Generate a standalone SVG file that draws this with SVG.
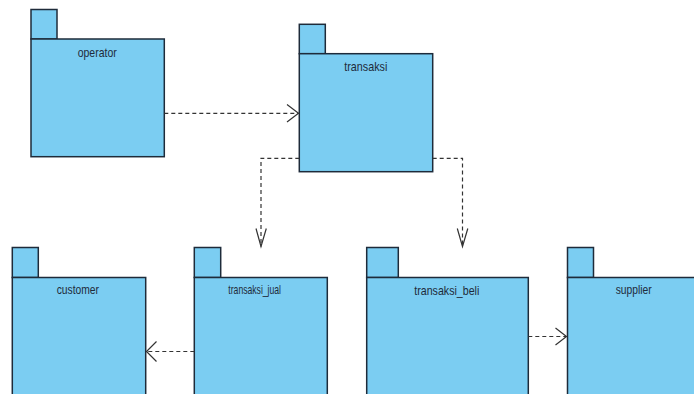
<svg xmlns="http://www.w3.org/2000/svg" width="694" height="394" viewBox="0 0 694 394">
<style>
.pkg rect{fill:#7bcdf2;stroke:#1e2b3a;stroke-width:1.5}
.pkg text{font-family:"Liberation Sans",Arial,sans-serif;font-size:13px;fill:#1e2b3a;text-anchor:middle}
.dep{fill:none;stroke:#333;stroke-width:1.2;stroke-dasharray:4,3}
.head{fill:none;stroke:#333;stroke-width:1.2}
</style>
<rect width="694" height="394" fill="#ffffff"/>
<g id="operator" class="pkg">
<rect x="31" y="9.5" width="26" height="29.5"/>
<rect x="31" y="39" width="133.3" height="117.7"/>
<text x="97.2" y="57" textLength="39" lengthAdjust="spacingAndGlyphs">operator</text>
</g>
<g id="transaksi" class="pkg">
<rect x="299.3" y="24.3" width="26" height="29.4"/>
<rect x="299.3" y="53.7" width="133.4" height="118"/>
<text x="365.8" y="71" textLength="43" lengthAdjust="spacingAndGlyphs">transaksi</text>
</g>
<g id="customer" class="pkg">
<rect x="12.3" y="247.5" width="26" height="30"/>
<rect x="12.3" y="277.5" width="133.4" height="130"/>
<text x="77.8" y="294.3" textLength="42.3" lengthAdjust="spacingAndGlyphs">customer</text>
</g>
<g id="transaksi_jual" class="pkg">
<rect x="194.3" y="247.5" width="26.4" height="30"/>
<rect x="194.3" y="277.5" width="133" height="130"/>
<text x="254.7" y="294.3" textLength="52.7" lengthAdjust="spacingAndGlyphs">transaksi_jual</text>
</g>
<g id="transaksi_beli" class="pkg">
<rect x="366.7" y="247.5" width="31.6" height="30"/>
<rect x="366.7" y="277.5" width="161.6" height="130"/>
<text x="446.8" y="294.8" textLength="65" lengthAdjust="spacingAndGlyphs">transaksi_beli</text>
</g>
<g id="supplier" class="pkg">
<rect x="567.5" y="247.5" width="26" height="30"/>
<rect x="567.5" y="277.5" width="140" height="130"/>
<text x="633.7" y="294.3" textLength="36" lengthAdjust="spacingAndGlyphs">supplier</text>
</g>
<g id="connectors">
<path class="dep" d="M164.3,113.3 H298.5"/>
<path class="head" d="M287,104.5 L298.5,113.3 L287,122"/>
<path class="dep" d="M299.3,158.3 H261 V246.5"/>
<path class="head" d="M256,228.5 L261,246.5 L266.3,228.5"/>
<path class="dep" d="M432.7,158.3 H462.5 V246.5"/>
<path class="head" d="M457.3,228.5 L462.5,246.5 L467.8,228.5"/>
<path class="dep" d="M194.3,351.5 H146.5"/>
<path class="head" d="M156.5,341.5 L146.5,351.5 L156.5,361.5"/>
<path class="dep" d="M528.3,336.5 H566.5"/>
<path class="head" d="M555.5,328 L566.5,336.5 L555.5,345"/>
</g>
</svg>
